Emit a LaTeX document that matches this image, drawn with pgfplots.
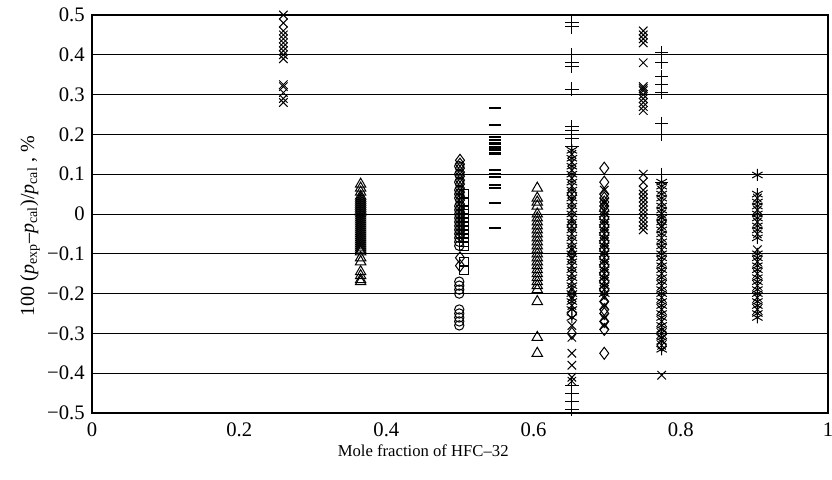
\documentclass[border=0pt]{standalone}
\usepackage{pgfplots}
\pgfplotsset{compat=1.18}
\usepackage{fontspec}
\setmainfont{Liberation Serif}
\newcommand{\tf}{\fontsize{15.5pt}{18pt}\selectfont}
\newcommand{\lf}{\fontsize{12.5pt}{15pt}\selectfont}
\newcommand{\yf}{\fontsize{15pt}{18pt}\selectfont}
\begin{document}
\begin{tikzpicture}
\begin{axis}[name=ax, scale only axis, width=552pt, height=298.5pt,
  xmin=0, xmax=1, ymin=-0.5, ymax=0.5,
  axis line style={line width=1.4pt},
  xtick={0,0.2,0.4,0.6,0.8,1}, xticklabels={0,0.2,0.4,0.6,0.8,1},
  ytick={-0.5,-0.4,-0.3,-0.2,-0.1,0,0.1,0.2,0.3,0.4,0.5},
  yticklabels={−0.5,−0.4,−0.3,−0.2,−0.1,0,0.1,0.2,0.3,0.4,0.5},
  major tick length=0pt,
  ymajorgrids, major grid style={line width=0.6pt, black},
  xticklabel style={font=\tf, anchor=center, yshift=-12.5pt},
  yticklabel style={font=\tf, xshift=-2pt},
  xlabel={Mole fraction of HFC–32},
  xlabel style={font=\lf, at={(axis description cs:0.45,0)}, anchor=center, yshift=-28.5pt},
  ylabel={100 (\textit{p}\textsubscript{exp}–\textit{p}\textsubscript{cal})/\textit{p}\textsubscript{cal} , \%},
  ylabel style={font=\yf, at={(axis description cs:-0.0842,0.47)}, anchor=center},
  every axis plot/.append style={only marks, black, mark options={line width=0.75pt, fill=none, solid}},
  clip=false,
]
% x marks
\addplot[mark=x, mark size=4.5pt] coordinates {
(0.26,0.50)(0.26,0.48)(0.26,0.46)(0.26,0.45)(0.26,0.44)(0.26,0.43)(0.26,0.42)(0.26,0.41)(0.26,0.40)(0.26,0.39)
(0.26,0.325)(0.26,0.32)(0.26,0.305)(0.26,0.29)(0.26,0.28)
(0.749,0.46)(0.749,0.45)(0.749,0.44)(0.749,0.43)(0.749,0.38)(0.749,0.32)(0.749,0.315)(0.749,0.31)(0.749,0.30)(0.749,0.29)(0.749,0.28)(0.749,0.27)(0.749,0.26)
(0.749,0.10)(0.749,0.08)(0.749,0.06)(0.749,0.05)(0.749,0.04)(0.749,0.03)(0.749,0.02)(0.749,0.01)(0.749,0.0)(0.749,-0.01)(0.749,-0.02)(0.749,-0.03)(0.749,-0.04)
(0.652,0.15)(0.652,0.13)(0.652,0.11)(0.652,0.09)(0.652,0.07)(0.652,0.05)(0.652,0.03)(0.652,0.01)(0.652,-0.01)(0.652,-0.03)(0.652,-0.05)(0.652,-0.07)(0.652,-0.09)(0.652,-0.11)(0.652,-0.13)(0.652,-0.15)(0.652,-0.17)(0.652,-0.19)(0.652,-0.21)(0.652,-0.23)
(0.652,-0.28)(0.652,-0.31)(0.652,-0.35)(0.652,-0.38)(0.652,-0.41)(0.652,-0.42)
(0.696,0.06)(0.696,0.03)(0.696,0.01)(0.696,-0.01)(0.696,-0.03)(0.696,-0.05)(0.696,-0.07)(0.696,-0.09)(0.696,-0.11)(0.696,-0.13)(0.696,-0.15)(0.696,-0.17)(0.696,-0.19)(0.696,-0.21)(0.696,-0.23)(0.696,-0.26)(0.696,-0.28)
(0.774,0.06)(0.774,0.03)(0.774,0.0)(0.774,-0.03)(0.774,-0.06)(0.774,-0.09)(0.774,-0.12)(0.774,-0.15)(0.774,-0.18)(0.774,-0.21)(0.774,-0.24)(0.774,-0.27)(0.774,-0.30)(0.774,-0.33)(0.774,-0.405)
(0.904,0.04)(0.904,0.01)(0.904,-0.02)(0.904,-0.05)(0.904,-0.09)(0.904,-0.12)(0.904,-0.15)(0.904,-0.18)(0.904,-0.21)(0.904,-0.24)
};
% asterisks
\addplot[mark=asterisk, mark size=4.5pt] coordinates {
(0.652,0.16)(0.652,0.14)(0.652,0.12)(0.652,0.10)(0.652,0.08)(0.652,0.06)(0.652,0.04)(0.652,0.02)(0.652,0.0)(0.652,-0.02)(0.652,-0.04)(0.652,-0.06)(0.652,-0.08)(0.652,-0.10)(0.652,-0.12)(0.652,-0.14)(0.652,-0.16)(0.652,-0.18)(0.652,-0.20)(0.652,-0.22)(0.652,-0.24)(0.652,-0.26)
(0.774,0.08)(0.774,0.07)(0.774,0.05)(0.774,0.04)(0.774,0.02)(0.774,0.01)(0.774,-0.01)(0.774,-0.02)(0.774,-0.04)(0.774,-0.05)(0.774,-0.07)(0.774,-0.08)(0.774,-0.10)(0.774,-0.11)(0.774,-0.13)(0.774,-0.14)(0.774,-0.16)(0.774,-0.17)(0.774,-0.19)(0.774,-0.20)(0.774,-0.22)(0.774,-0.23)(0.774,-0.25)(0.774,-0.26)(0.774,-0.28)(0.774,-0.29)(0.774,-0.31)(0.774,-0.32)(0.774,-0.34)
(0.904,0.098)(0.904,0.05)(0.904,0.03)(0.904,0.02)(0.904,0.0)(0.904,-0.01)(0.904,-0.03)(0.904,-0.04)(0.904,-0.06)(0.904,-0.10)(0.904,-0.11)(0.904,-0.13)(0.904,-0.14)(0.904,-0.16)(0.904,-0.17)(0.904,-0.19)(0.904,-0.20)(0.904,-0.22)(0.904,-0.23)(0.904,-0.25)(0.904,-0.26)
(0.696,0.0)(0.696,-0.02)(0.696,-0.04)(0.696,-0.06)(0.696,-0.08)(0.696,-0.10)(0.696,-0.12)(0.696,-0.14)(0.696,-0.16)(0.696,-0.18)(0.696,-0.20)
};
% plus
\addplot[mark=+, mark size=5pt] coordinates {
(0.652,0.48)(0.652,0.47)(0.652,0.40)(0.652,0.38)(0.652,0.37)(0.652,0.314)(0.652,0.22)(0.652,0.21)(0.652,0.19)(0.652,0.17)
(0.652,-0.43)(0.652,-0.45)(0.652,-0.47)(0.652,-0.49)
(0.774,0.405)(0.774,0.38)(0.774,0.345)(0.774,0.325)(0.774,0.306)(0.774,0.228)(0.774,0.20)(0.774,0.10)(0.774,0.08)
};
% triangles
\addplot[mark=triangle, mark size=4.5pt] coordinates {
(0.365,0.075)(0.365,0.065)(0.365,0.055)(0.365,0.045)(0.365,0.04)(0.365,0.035)(0.365,0.03)(0.365,0.025)(0.365,0.02)(0.365,0.015)(0.365,0.01)(0.365,0.005)(0.365,0.0)(0.365,-0.005)(0.365,-0.01)(0.365,-0.015)(0.365,-0.02)(0.365,-0.025)(0.365,-0.03)(0.365,-0.035)(0.365,-0.04)(0.365,-0.045)(0.365,-0.05)(0.365,-0.055)(0.365,-0.06)(0.365,-0.065)(0.365,-0.07)(0.365,-0.075)(0.365,-0.08)(0.365,-0.085)(0.365,-0.09)(0.365,-0.095)(0.365,-0.11)(0.365,-0.12)(0.365,-0.145)(0.365,-0.155)(0.365,-0.165)(0.365,-0.17)
(0.605,0.065)(0.605,0.04)(0.605,0.03)(0.605,0.02)(0.605,0.0)(0.605,-0.01)(0.605,-0.02)(0.605,-0.03)(0.605,-0.04)(0.605,-0.05)(0.605,-0.06)(0.605,-0.07)(0.605,-0.08)(0.605,-0.09)(0.605,-0.10)(0.605,-0.11)(0.605,-0.12)(0.605,-0.13)(0.605,-0.14)(0.605,-0.15)(0.605,-0.16)(0.605,-0.17)(0.605,-0.18)(0.605,-0.19)(0.605,-0.22)(0.605,-0.31)(0.605,-0.35)
};
% diamonds
\addplot[mark=diamond, mark size=4.5pt] coordinates {
(0.50,0.135)(0.50,0.125)(0.50,0.115)(0.50,0.105)(0.50,0.095)(0.50,0.085)(0.50,0.075)(0.50,0.065)(0.50,0.055)(0.50,0.045)(0.50,0.035)(0.50,0.025)(0.50,0.015)(0.50,0.005)(0.50,-0.005)(0.50,-0.015)(0.50,-0.025)(0.50,-0.035)(0.50,-0.045)(0.50,-0.055)(0.50,-0.11)(0.50,-0.13)
(0.696,0.115)(0.696,0.08)(0.696,0.05)(0.696,0.04)(0.696,0.03)(0.696,0.02)(0.696,0.01)(0.696,-0.01)(0.696,-0.03)(0.696,-0.05)(0.696,-0.07)(0.696,-0.09)(0.696,-0.11)(0.696,-0.13)(0.696,-0.15)(0.696,-0.17)(0.696,-0.19)(0.696,-0.22)(0.696,-0.24)(0.696,-0.25)(0.696,-0.27)(0.696,-0.29)(0.696,-0.35)
(0.652,0.05)(0.652,-0.03)(0.652,-0.10)(0.652,-0.20)(0.652,-0.25)(0.652,-0.30)
(0.774,-0.02)(0.774,-0.30)(0.774,-0.33)
};
% circles
\addplot[mark=o, mark size=3.5pt] coordinates {
(0.499,0.12)(0.499,0.10)(0.499,0.08)(0.499,0.06)(0.499,0.05)(0.499,0.04)(0.499,0.02)(0.499,0.01)(0.499,0.0)(0.499,-0.01)(0.499,-0.02)(0.499,-0.03)(0.499,-0.04)(0.499,-0.05)(0.499,-0.06)(0.499,-0.07)(0.499,-0.08)
(0.499,-0.17)(0.499,-0.18)(0.499,-0.19)(0.499,-0.20)(0.499,-0.24)(0.499,-0.25)(0.499,-0.26)(0.499,-0.27)(0.499,-0.28)
};
% squares
\addplot[mark=square, mark size=3.5pt] coordinates {
(0.505,0.05)(0.505,0.03)(0.505,0.01)(0.505,0.0)(0.505,-0.01)(0.505,-0.02)(0.505,-0.03)(0.505,-0.04)(0.505,-0.05)(0.505,-0.06)(0.505,-0.07)(0.505,-0.08)(0.505,-0.12)(0.505,-0.14)
};
% dashes
\addplot[mark=-, mark size=4.5pt, mark options={line width=1.6pt}] coordinates {
(0.547,0.266)(0.547,0.223)(0.547,0.193)(0.547,0.185)(0.547,0.177)(0.547,0.167)(0.547,0.16)(0.547,0.152)(0.547,0.11)(0.547,0.10)(0.547,0.093)(0.547,0.073)(0.547,0.065)(0.547,0.028)(0.547,-0.035)
};
\end{axis}
\pgfresetboundingbox
\path (ax.south west) ++(-69pt,-50.25pt) coordinate (bl);
\path (ax.north east) ++(3pt,11.25pt) coordinate (tr);
\path[use as bounding box] (bl) rectangle (tr);
\end{tikzpicture}
\end{document}
